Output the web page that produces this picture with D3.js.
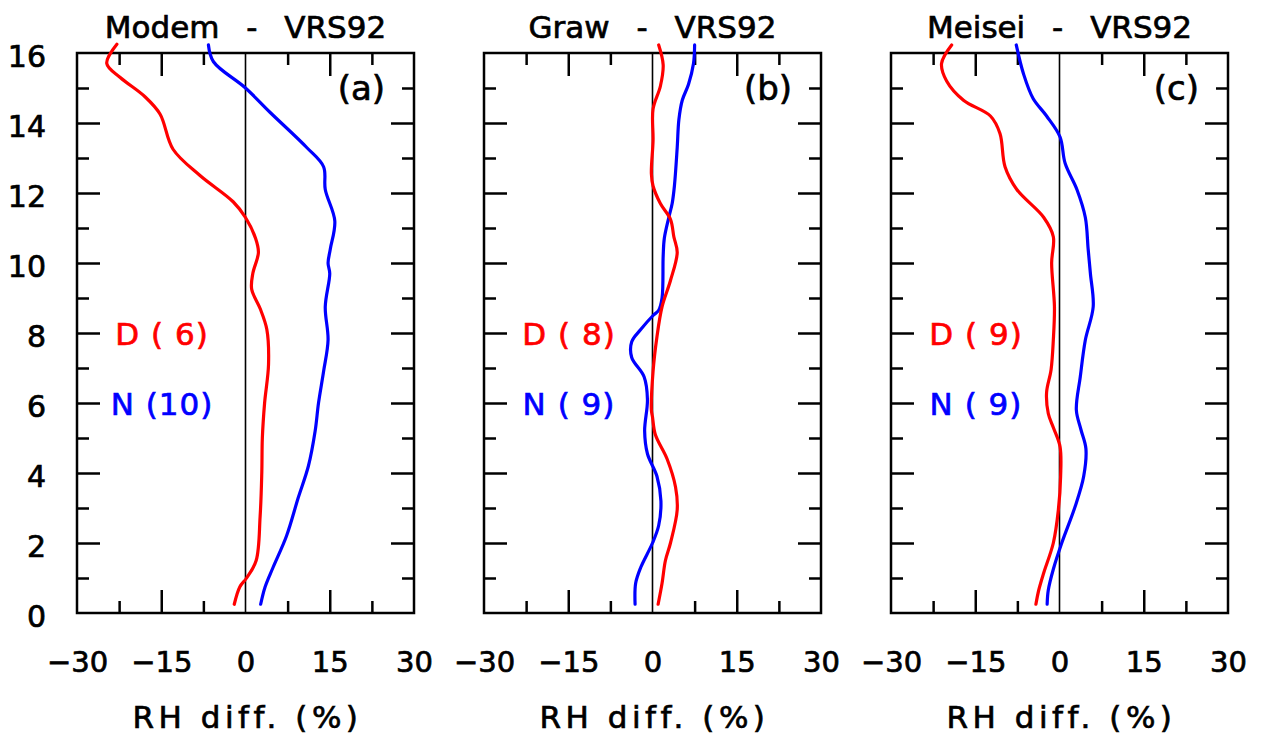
<!DOCTYPE html>
<html>
<head>
<meta charset="utf-8">
<script src="https://cdn.jsdelivr.net/npm/d3@7"></script>
<style>
  html, body { margin: 0; padding: 0; background: #fff; }
  svg { display: block; }
  text { white-space: pre; }
</style>
</head>
<body>
<script>
// ---------------- DATA (height km, RH difference %) ----------------
const titles = ["Modem - VRS92", "Graw - VRS92", "Meisei - VRS92"];
const panelTags = ["(a)", "(b)", "(c)"];
const dayLabels = ["D ( 6)", "D ( 8)", "D ( 9)"];
const nightLabels = ["N (10)", "N ( 9)", "N ( 9)"];

const xTickLabels = [-30, -15, 0, 15, 30];
const yTickLabels = [0, 2, 4, 6, 8, 10, 12, 14, 16];

const modemDay = [
  [0.25,-2.0],[0.75,-1.0],[1.0,0.2],[1.5,1.9],[2.75,2.6],[4.0,2.9],[5.0,3.0],
  [6.0,3.4],[7.1,4.1],[8.1,3.8],[8.7,2.6],[9.25,1.1],[9.7,1.3],[10.3,2.3],
  [10.7,1.8],[11.3,0.0],[11.75,-2.2],[12.5,-8.1],[13.25,-12.9],[14.25,-15.2],
  [14.75,-17.9],[15.3,-22.3],[15.7,-24.7],[16.25,-22.9]
];
const modemNight = [
  [0.25,2.7],[0.75,3.5],[1.3,4.9],[2.2,7.3],[3.3,9.4],[4.2,11.2],[5.2,12.4],
  [6.0,13.0],[6.9,13.9],[7.8,14.7],[8.75,14.2],[9.7,15.0],[10.0,14.7],[10.4,15.1],
  [11.2,15.9],[12.1,14.2],[12.75,13.9],[13.3,10.9],[14.3,4.4],[15.0,0.0],
  [15.75,-5.7],[16.23,-6.6]
];
const grawDay = [
  [0.25,1.0],[0.85,1.7],[1.5,2.3],[2.0,3.2],[2.95,4.4],[3.6,4.1],[4.4,2.6],
  [5.1,0.5],[5.6,0.0],[5.8,-0.2],[6.9,0.1],[7.9,0.8],[8.75,1.7],[9.5,3.2],
  [10.3,4.4],[10.75,3.8],[11.25,3.2],[11.7,1.4],[12.2,0.1],[12.55,-0.2],
  [13.5,0.1],[14.4,0.1],[15.05,1.4],[15.66,1.9],[16.23,1.1]
];
const grawNight = [
  [0.25,-3.1],[0.85,-3.0],[1.3,-2.1],[2.0,0.0],[2.5,1.1],[3.2,1.5],[3.9,0.8],
  [4.55,-0.9],[5.2,-1.4],[6.1,-0.9],[6.75,-1.5],[7.3,-3.7],[7.75,-3.7],[8.1,-2.1],
  [8.5,0.1],[8.65,1.1],[9.0,1.7],[10.2,1.9],[10.7,2.1],[11.3,2.9],[11.7,3.5],
  [12.2,3.9],[13.3,4.4],[14.1,4.7],[14.65,5.3],[15.1,6.4],[15.7,7.3],[16.23,7.5]
];
const meiseiDay = [
  [0.25,-4.2],[0.65,-3.7],[1.15,-2.8],[2.0,-1.1],[2.95,-0.2],[3.9,0.2],[4.75,0.1],
  [5.3,-1.1],[5.7,-2.0],[6.3,-2.3],[6.95,-1.5],[7.8,-1.1],[8.75,-0.9],[10.0,-1.4],
  [10.75,-1.1],[11.3,-2.8],[12.1,-7.6],[12.75,-9.7],[13.7,-10.6],[14.2,-12.3],
  [14.65,-17.1],[15.2,-20.1],[15.7,-21.0],[16.23,-19.2]
];
const meiseiNight = [
  [0.25,-2.2],[0.65,-2.0],[1.25,-1.1],[2.0,0.4],[3.05,2.8],[3.9,4.3],[4.7,4.7],
  [5.25,3.8],[5.8,3.0],[6.75,3.7],[7.8,4.6],[8.75,6.0],[9.7,5.5],[10.4,5.1],
  [11.3,4.6],[12.1,3.1],[12.85,1.0],[13.6,0.1],[14.2,-2.3],[14.7,-4.7],
  [15.4,-6.4],[16.23,-7.7]
];
const daySeries = [modemDay, grawDay, meiseiDay];
const nightSeries = [modemNight, grawNight, meiseiNight];

// ---------------- LAYOUT ----------------
const W = 1261, H = 736;
const FONT = "'DejaVu Sans', 'Liberation Sans', sans-serif";
const panelW = 337, panelStep = 407, firstLeft = 77;
const plotTop = 53, plotBottom = 613;
const RED = "#ff0000", BLUE = "#0000ff";
const TXT_STROKE = 0.7;

const svg = d3.select("body").append("svg")
  .attr("width", W).attr("height", H)
  .attr("viewBox", `0 0 ${W} ${H}`);

const y = d3.scaleLinear().domain([0, 16]).range([plotBottom, plotTop]);

const evenH = [2, 4, 6, 8, 10, 12, 14];
const oddH = [1, 3, 5, 7, 9, 11, 13, 15];
const majorX = [-15, 15];
const minorX = [-22.5, -7.5, 7.5, 22.5];

function styleTicks(g) {
  g.select(".domain").remove();
  g.selectAll(".tick line").attr("stroke", "#000").attr("stroke-width", 2.5);
  g.selectAll(".tick text").remove();
}

for (let i = 0; i < 3; i++) {
  const left = firstLeft + i * panelStep;
  const right = left + panelW;
  const x = d3.scaleLinear().domain([-30, 30]).range([left, right]);
  const g = svg.append("g");

  // inward ticks, all four sides
  g.append("g").attr("transform", `translate(${left},0)`)
    .call(d3.axisRight(y).tickValues(evenH).tickSize(23)).call(styleTicks);
  g.append("g").attr("transform", `translate(${left},0)`)
    .call(d3.axisRight(y).tickValues(oddH).tickSize(12)).call(styleTicks);
  g.append("g").attr("transform", `translate(${right},0)`)
    .call(d3.axisLeft(y).tickValues(evenH).tickSize(23)).call(styleTicks);
  g.append("g").attr("transform", `translate(${right},0)`)
    .call(d3.axisLeft(y).tickValues(oddH).tickSize(12)).call(styleTicks);
  g.append("g").attr("transform", `translate(0,${plotBottom})`)
    .call(d3.axisTop(x).tickValues(majorX).tickSize(23)).call(styleTicks);
  g.append("g").attr("transform", `translate(0,${plotBottom})`)
    .call(d3.axisTop(x).tickValues(minorX).tickSize(12)).call(styleTicks);
  g.append("g").attr("transform", `translate(0,${plotTop})`)
    .call(d3.axisBottom(x).tickValues(majorX).tickSize(23)).call(styleTicks);
  g.append("g").attr("transform", `translate(0,${plotTop})`)
    .call(d3.axisBottom(x).tickValues(minorX).tickSize(12)).call(styleTicks);

  // x tick labels
  const xl = g.append("g").attr("transform", `translate(0,${plotBottom})`)
    .call(d3.axisBottom(x).tickValues(xTickLabels).tickSize(0).tickPadding(38));
  xl.select(".domain").remove();
  xl.attr("font-family", FONT).attr("font-size", 29);
  xl.selectAll("text").attr("fill", "#000")
    .attr("stroke", "#000").attr("stroke-width", TXT_STROKE);

  // y tick labels, first panel only
  if (i === 0) {
    const yl = g.append("g").attr("transform", `translate(${left},0)`)
      .call(d3.axisLeft(y).tickValues(yTickLabels).tickSize(0).tickPadding(31));
    yl.select(".domain").remove();
    yl.attr("font-family", FONT).attr("font-size", 30);
    yl.selectAll("text").attr("fill", "#000").attr("dy", "0.45em")
      .attr("stroke", "#000").attr("stroke-width", TXT_STROKE);
  }

  // zero line
  g.append("line")
    .attr("x1", x(0)).attr("x2", x(0))
    .attr("y1", y(0)).attr("y2", y(16))
    .attr("stroke", "#000").attr("stroke-width", 1.6);

  // frame
  g.append("rect")
    .attr("x", left).attr("y", plotTop)
    .attr("width", panelW).attr("height", plotBottom - plotTop)
    .attr("fill", "none").attr("stroke", "#000").attr("stroke-width", 2.5);

  // curves
  const line = d3.line()
    .x(d => x(d[1])).y(d => y(d[0]))
    .curve(d3.curveCatmullRom.alpha(0.5));
  g.append("path").datum(nightSeries[i])
    .attr("d", line).attr("fill", "none")
    .attr("stroke", BLUE).attr("stroke-width", 3.2)
    .attr("stroke-linejoin", "round").attr("stroke-linecap", "round");
  g.append("path").datum(daySeries[i])
    .attr("d", line).attr("fill", "none")
    .attr("stroke", RED).attr("stroke-width", 3.2)
    .attr("stroke-linejoin", "round").attr("stroke-linecap", "round");

  // title
  g.append("text")
    .attr("x", x(0)).attr("y", 38)
    .attr("text-anchor", "middle")
    .attr("font-family", FONT).attr("font-size", 31)
    .attr("word-spacing", 17)
    .attr("fill", "#000").attr("stroke", "#000").attr("stroke-width", TXT_STROKE)
    .text(titles[i]);

  // panel tag
  g.append("text")
    .attr("x", right - 29).attr("y", 100)
    .attr("text-anchor", "end")
    .attr("font-family", FONT).attr("font-size", 34)
    .attr("fill", "#000").attr("stroke", "#000").attr("stroke-width", TXT_STROKE)
    .text(panelTags[i]);

  // legend labels
  g.append("text")
    .attr("x", left + 85).attr("y", y(8) + 12)
    .attr("text-anchor", "middle")
    .attr("font-family", FONT).attr("font-size", 31)
    .attr("letter-spacing", 1)
    .attr("fill", RED).attr("stroke", RED).attr("stroke-width", TXT_STROKE)
    .text(dayLabels[i]);
  g.append("text")
    .attr("x", left + 85).attr("y", y(6) + 12)
    .attr("text-anchor", "middle")
    .attr("font-family", FONT).attr("font-size", 31)
    .attr("letter-spacing", 1)
    .attr("fill", BLUE).attr("stroke", BLUE).attr("stroke-width", TXT_STROKE)
    .text(nightLabels[i]);

  // x axis title
  g.append("text")
    .attr("x", x(0) + 2).attr("y", 728)
    .attr("text-anchor", "middle")
    .attr("font-family", FONT).attr("font-size", 31)
    .attr("letter-spacing", 4.5)
    .attr("fill", "#000").attr("stroke", "#000").attr("stroke-width", TXT_STROKE)
    .text("RH diff. (%)");
}
</script>
</body>
</html>
